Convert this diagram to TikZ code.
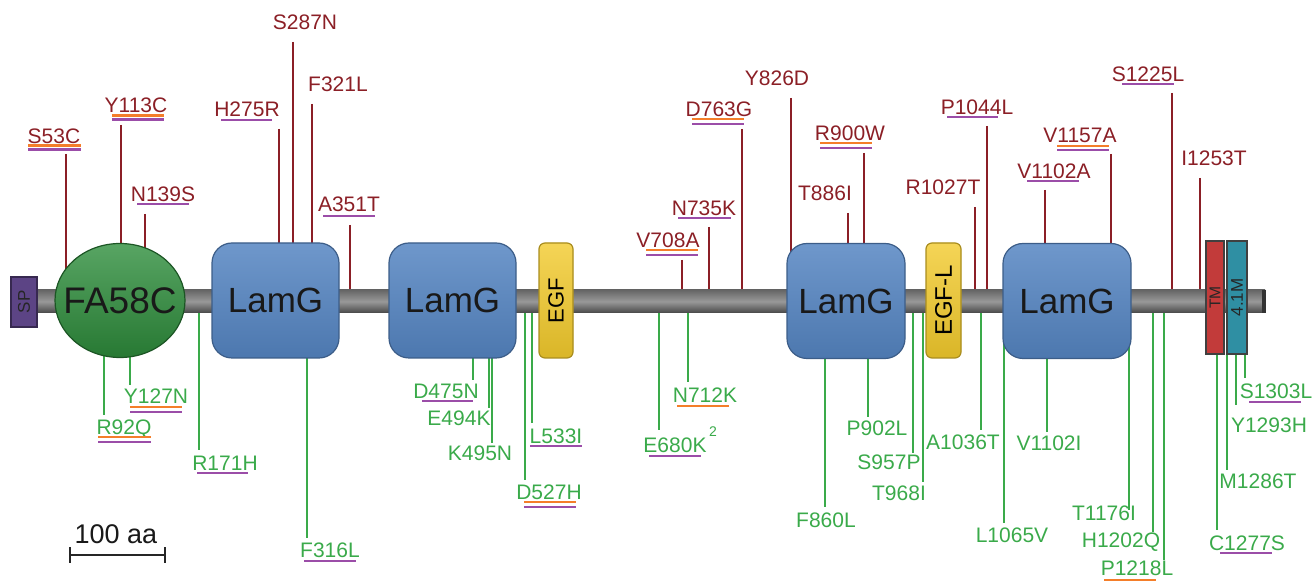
\documentclass[tikz,border=0pt]{standalone}
\usepackage{fontspec}
\setmainfont{Liberation Sans}
\usetikzlibrary{shapes.geometric}
\definecolor{mred}{HTML}{8B1F26}
\definecolor{mgreen}{HTML}{3AAA4A}
\definecolor{morange}{HTML}{F47E2A}
\definecolor{mpurple}{HTML}{9B4DA8}
\definecolor{spc}{HTML}{5C4485}
\definecolor{fagreen}{HTML}{2E8E3C}
\definecolor{lamblue}{HTML}{5585C2}
\definecolor{egfy}{HTML}{F2CA2C}
\definecolor{tmred}{HTML}{C23B3A}
\definecolor{teal}{HTML}{2F8FA3}
\tikzset{
  lab/.style={inner sep=0pt, text depth=0pt, font=\fontsize{10.5}{12}\selectfont},
  uplab/.style={lab, text=mred},
  dnlab/.style={lab, text=mgreen},
  upline/.style={draw=mred, line width=0.65pt},
  dnline/.style={draw=mgreen, line width=0.65pt},
  ulp/.style={draw=mpurple, line width=1.4pt},
  ulo/.style={draw=morange, line width=1.4pt},
  lamg/.style={draw=lamblue!70!black, line width=0.6pt, rounded corners=10pt,
    top color=lamblue!85!white, bottom color=lamblue!90!black,
    minimum height=57.5pt, inner sep=0pt, text=black!90,
    font=\fontsize{17.5}{20}\selectfont},
  egfbox/.style={draw=egfy!70!black, line width=0.6pt, rounded corners=3pt,
    top color=egfy!80!white, bottom color=egfy!90!black, fill=egfy,
    minimum height=57.5pt, inner sep=0pt},
  tmbox/.style={draw=black!75, line width=0.6pt, inner sep=0pt, minimum height=56.5pt}
}
\newcommand\mutup[7]{%
  \node[uplab] (#1) at (#3,#4) {#2};
  \coordinate (#1-a) at (#5,#6);
  \coordinate (#1-b) at (#5,#7);
  \draw[upline] (#1-a) -- (#1-b);}
\newcommand\mutdn[7]{%
  \node[dnlab] (#1) at (#3,#4) {#2};
  \coordinate (#1-a) at (#5,#6);
  \coordinate (#1-b) at (#5,#7);
  \draw[dnline] (#1-a) -- (#1-b);}
\newcommand\ulP[3]{\draw[ulp] (#1,#3) -- (#2,#3);}
\newcommand\ulO[3]{\draw[ulo] (#1,#3) -- (#2,#3);}
\begin{document}
\begin{tikzpicture}[x=0.5pt,y=-0.5pt]
\useasboundingbox (0,0) rectangle (1314,582);
% ---------- upper (red) mutations ----------
\mutup{S53C}{S53C}{54}{136}{66}{154}{285}
\ulO{28}{81}{145.5}\ulP{28}{81}{149.5}
\mutup{Y113C}{Y113C}{136}{105}{121}{125}{258}
\ulO{112}{164}{115.5}\ulP{112}{164}{119.5}
\mutup{N139S}{N139S}{163}{194}{145}{214}{262}
\ulP{137}{189}{204}
\mutup{H275R}{H275R}{247}{109}{279}{129}{258}
\ulP{221}{272}{120}
\mutup{S287N}{S287N}{305}{22}{293}{42}{258}
\mutup{F321L}{F321L}{338}{84}{312}{104}{258}
\mutup{A351T}{A351T}{349}{204}{350}{225}{300}
\ulP{323}{375}{216}
\mutup{V708A}{V708A}{668}{240}{682}{260}{300}
\ulO{646}{698}{250}\ulP{646}{698}{255}
\mutup{N735K}{N735K}{704}{208}{709}{227}{300}
\ulP{678}{731}{218}
\mutup{D763G}{D763G}{719}{109}{742}{129}{300}
\ulO{692}{744}{119}\ulP{692}{744}{124}
\mutup{Y826D}{Y826D}{777}{78}{791}{98}{272}
\mutup{T886I}{T886I}{825}{193}{848}{213}{258}
\mutup{R900W}{R900W}{850}{133}{864}{153}{258}
\ulO{820}{872}{143}\ulP{820}{872}{148}
\mutup{R1027T}{R1027T}{943}{187}{975}{207}{300}
\mutup{P1044L}{P1044L}{977}{107}{987}{126}{300}
\ulP{947}{998}{117}
\mutup{V1102A}{V1102A}{1054}{171}{1045}{190}{258}
\ulP{1027}{1079}{181}
\mutup{V1157A}{V1157A}{1080}{135}{1111}{154}{258}
\ulO{1057}{1109}{146}\ulP{1057}{1109}{150}
\mutup{S1225L}{S1225L}{1148}{74}{1172}{93}{300}
\ulP{1122}{1174}{84}
\mutup{I1253T}{I1253T}{1214}{158}{1200}{178}{300}
% ---------- lower (green) mutations ----------
\mutdn{R92Q}{R92Q}{124}{427}{104}{330}{415}
\ulO{98}{151}{437}\ulP{98}{151}{442}
\mutdn{Y127N}{Y127N}{156}{396}{130}{330}{385}
\ulO{130}{182}{407}\ulP{130}{182}{412}
\mutdn{R171H}{R171H}{225}{463}{199}{305}{450}
\ulP{197}{248}{473}
\mutdn{F316L}{F316L}{330}{550}{307}{340}{538}
\ulP{304}{356}{561}
\mutdn{D475N}{D475N}{446}{391}{473}{340}{380}
\ulP{422}{473}{401}
\mutdn{E494K}{E494K}{459}{418}{489}{340}{408}
\mutdn{K495N}{K495N}{480}{453}{492}{340}{443}
\mutdn{L533I}{L533I}{556}{436}{532}{305}{423}
\ulP{530}{582}{446}
\mutdn{D527H}{D527H}{549}{492}{525}{305}{480}
\ulO{524}{576}{502}\ulP{524}{576}{507}
\mutdn{E680K}{E680K}{675}{445}{659}{305}{430}
\ulP{649}{701}{456}
\node[dnlab, font=\fontsize{7}{8}\selectfont] (E680Ksup) at (713,432) {2};
\mutdn{N712K}{N712K}{705}{395}{688}{305}{382}
\ulO{677}{729}{406}
\mutdn{F860L}{F860L}{826}{520}{825}{340}{507}
\mutdn{P902L}{P902L}{877}{428}{868}{340}{417}
\mutdn{S957P}{S957P}{889}{462}{913}{305}{453}
\mutdn{T968I}{T968I}{899}{493}{923}{305}{482}
\mutdn{A1036T}{A1036T}{963}{442}{981}{305}{430}
\mutdn{L1065V}{L1065V}{1012}{535}{1004}{320}{523}
\mutdn{V1102I}{V1102I}{1049}{443}{1047}{340}{432}
\mutdn{T1176I}{T1176I}{1104}{513}{1129}{340}{510}
\mutdn{H1202Q}{H1202Q}{1121}{540}{1153}{305}{532}
\mutdn{P1218L}{P1218L}{1137}{568}{1164}{305}{560}
\ulO{1104}{1156}{580}
\mutdn{C1277S}{C1277S}{1247}{543}{1217}{340}{530}
\ulP{1220}{1272}{553}
\mutdn{M1286T}{M1286T}{1258}{481}{1227}{340}{470}
\mutdn{Y1293H}{Y1293H}{1269}{425}{1236}{340}{405}
\mutdn{S1303L}{S1303L}{1276}{391}{1245}{340}{378}
\ulP{1249}{1301}{402}
% ---------- backbone ----------
\shade[top color=black!60, bottom color=black!72, middle color=black!40]
  (12,290) rectangle (1265,313);
\fill[black!80] (1262,290) rectangle (1266,313);
% ---------- domains ----------
\node[draw=spc!60!black, line width=0.6pt, fill=spc, inner sep=0pt,
  minimum width=13pt, minimum height=25pt] (SP) at (24,302)
  {\rotatebox{90}{\fontsize{8.5}{10}\selectfont\color{black!85}SP}};
\node[ellipse, draw=fagreen!60!black, line width=0.6pt, top color=fagreen!80!white,
  bottom color=fagreen!85!black, inner sep=0pt, minimum width=65pt, minimum height=57pt]
  (FA) at (120,300.5) {};
\node[inner sep=0pt, font=\fontsize{18.5}{21}\selectfont, text=black!90] (FAt) at (FA.center) {FA58C};
\node[lamg, minimum width=63.5pt] (L1) at (275.5,300.5) {LamG};
\node[lamg, minimum width=63.5pt] (L2) at (452.5,300.5) {LamG};
\node[egfbox, minimum width=17pt] (EGF) at (556,300.5)
  {\rotatebox{90}{\fontsize{11}{13}\selectfont EGF}};
\node[lamg, minimum width=59pt] (L3) at (846,301) {LamG};
\node[egfbox, minimum width=17.5pt] (EGFL) at (943.5,300.5)
  {\rotatebox{90}{\fontsize{12}{14}\selectfont EGF-L}};
\node[lamg, minimum width=64pt] (L4) at (1067,301) {LamG};
\node[tmbox, fill=tmred, minimum width=9pt] (TM) at (1215,297.5)
  {\rotatebox{90}{\fontsize{7.8}{9}\selectfont\color{black!85}TM}};
\node[tmbox, fill=teal, minimum width=10pt] (M41) at (1237,297.5)
  {\rotatebox{90}{\fontsize{8.5}{10}\selectfont\color{black!85}4.1M}};
% ---------- scale bar ----------
\coordinate (sb1) at (70,555);
\coordinate (sb2) at (165,555);
\draw[line width=1.2pt, black!85] (sb1) -- (sb2);
\draw[line width=0.8pt, black!85] ([yshift=-4]sb1) -- ([yshift=4]sb1)
  ([yshift=-4]sb2) -- ([yshift=4]sb2);
\node[inner sep=0pt, text depth=0pt, font=\fontsize{13.5}{16}\selectfont, text=black!90]
  (sbl) at (116,534) {100 aa};
\end{tikzpicture}
\end{document}
